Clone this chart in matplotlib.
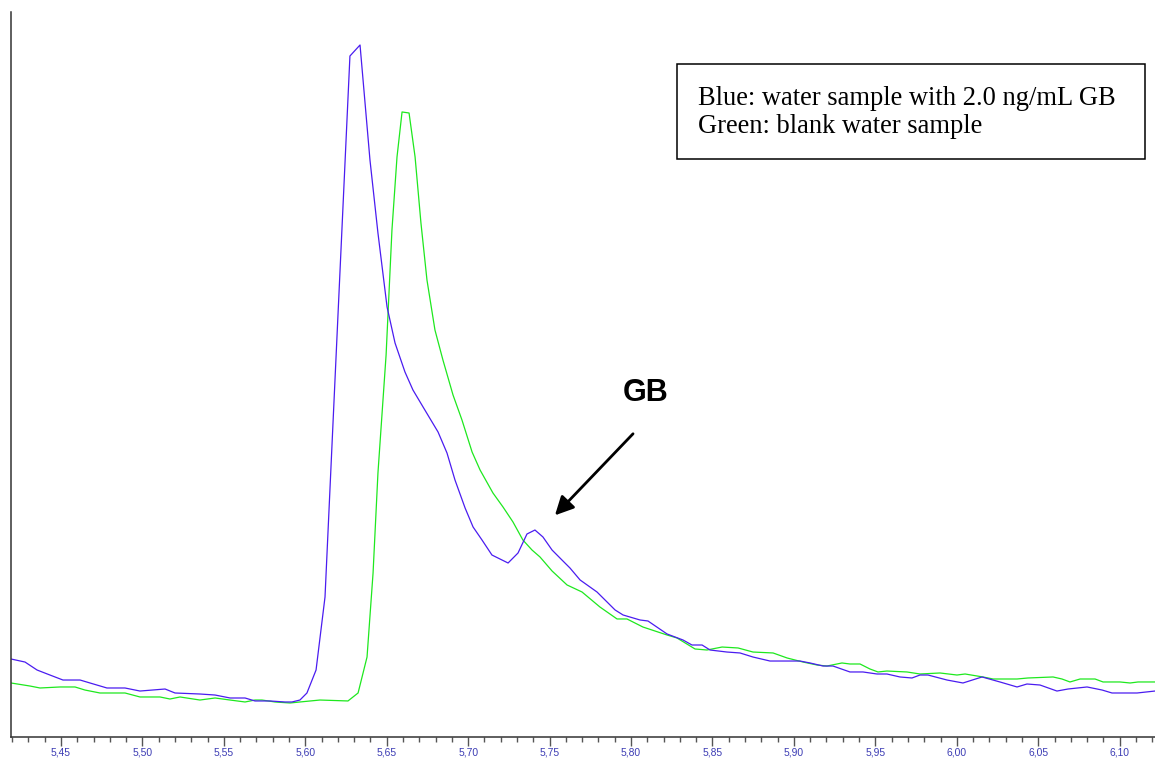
import matplotlib
matplotlib.use("Agg")
import matplotlib.pyplot as plt
from matplotlib.ticker import MultipleLocator, FuncFormatter
from matplotlib.patches import Rectangle

# retention time (min) and relative intensity (%)
blue_time = [5.4193, 5.4279, 5.4353, 5.4432, 5.4512, 5.4617, 5.4678, 5.4782, 5.4893, 5.4985,
             5.5139, 5.5200, 5.5353, 5.5446, 5.5538, 5.5630, 5.5691, 5.5783, 5.5875, 5.5918,
             5.5967, 5.6010, 5.6066, 5.6121, 5.6176, 5.6225, 5.6274, 5.6336, 5.6397, 5.6446,
             5.6502, 5.6551, 5.6612, 5.6661, 5.6723, 5.6815, 5.6870, 5.6919, 5.6981, 5.7030,
             5.7085, 5.7146, 5.7245, 5.7306, 5.7361, 5.7410, 5.7459, 5.7515, 5.7576, 5.7625,
             5.7687, 5.7791, 5.7902, 5.7951, 5.8055, 5.8104, 5.8221, 5.8319, 5.8374, 5.8436,
             5.8485, 5.8589, 5.8669, 5.8749, 5.8853, 5.8958, 5.9037, 5.9099, 5.9179, 5.9240,
             5.9344, 5.9424, 5.9510, 5.9571, 5.9651, 5.9725, 5.9774, 5.9823, 5.9940, 6.0038,
             6.0155, 6.0265, 6.0370, 6.0431, 6.0511, 6.0615, 6.0683, 6.0800, 6.0892, 6.0953,
             6.1107, 6.1217]
blue_int = [10.76, 10.34, 9.24, 8.55, 7.86, 7.86, 7.45, 6.76, 6.76, 6.34,
            6.62, 6.07, 5.93, 5.79, 5.38, 5.38, 4.97, 4.97, 4.83, 4.83,
            5.10, 6.07, 9.24, 19.31, 46.21, 70.07, 93.93, 95.45, 79.59, 69.52,
            59.31, 54.34, 50.34, 47.86, 45.52, 42.07, 39.17, 35.45, 31.59, 28.97,
            27.17, 25.10, 24.00, 25.38, 28.00, 28.55, 27.59, 25.79, 24.41, 23.31,
            21.66, 20.00, 17.52, 16.83, 16.14, 16.00, 14.21, 13.38, 12.69, 12.69,
            12.00, 11.72, 11.59, 11.03, 10.48, 10.48, 10.48, 10.21, 9.79, 9.79,
            8.97, 8.97, 8.69, 8.69, 8.28, 8.14, 8.55, 8.55, 7.86, 7.45,
            8.28, 7.59, 6.90, 7.31, 7.17, 6.34, 6.62, 6.90, 6.48, 6.07,
            6.07, 6.34]

green_time = [5.4193, 5.4310, 5.4371, 5.4494, 5.4586, 5.4647, 5.4739, 5.4893, 5.4985, 5.5108,
              5.5169, 5.5231, 5.5353, 5.5446, 5.5538, 5.5630, 5.5691, 5.5734, 5.5814, 5.5906,
              5.5967, 5.6090, 5.6262, 5.6324, 5.6379, 5.6416, 5.6446, 5.6496, 5.6532, 5.6563,
              5.6594, 5.6637, 5.6674, 5.6710, 5.6747, 5.6796, 5.6845, 5.6907, 5.6962, 5.7024,
              5.7073, 5.7152, 5.7214, 5.7275, 5.7336, 5.7392, 5.7441, 5.7515, 5.7607, 5.7699,
              5.7809, 5.7914, 5.7975, 5.8073, 5.8221, 5.8282, 5.8393, 5.8466, 5.8559, 5.8657,
              5.8749, 5.8872, 5.8958, 5.9056, 5.9142, 5.9203, 5.9295, 5.9344, 5.9406, 5.9467,
              5.9516, 5.9571, 5.9694, 5.9774, 5.9897, 6.0001, 6.0051, 6.0161, 6.0223, 6.0370,
              6.0437, 6.0591, 6.0646, 6.0695, 6.0757, 6.0849, 6.0898, 6.1002, 6.1064, 6.1113,
              6.1217]
green_int = [7.45, 7.03, 6.76, 6.90, 6.90, 6.48, 6.07, 6.07, 5.52, 5.52,
             5.24, 5.52, 5.10, 5.38, 5.10, 4.83, 5.10, 5.10, 4.83, 4.69,
             4.83, 5.10, 4.97, 6.07, 11.03, 22.62, 36.41, 52.69, 69.93, 80.00,
             86.21, 86.07, 80.00, 70.90, 63.03, 56.14, 52.00, 47.17, 43.72, 39.31,
             36.83, 33.66, 31.72, 29.66, 27.17, 25.79, 24.83, 22.90, 20.97, 20.00,
             17.93, 16.28, 16.28, 15.17, 14.07, 13.66, 12.14, 12.00, 12.41, 12.28,
             11.72, 11.59, 10.90, 10.34, 9.93, 9.79, 10.21, 10.07, 10.07, 9.38,
             8.97, 9.10, 8.97, 8.69, 8.83, 8.55, 8.69, 8.28, 8.00, 8.00,
             8.14, 8.28, 8.00, 7.59, 8.00, 8.00, 7.59, 7.59, 7.45, 7.59,
             7.59]

legend_lines = ["Blue: water sample with 2.0 ng/mL GB", "Green: blank water sample"]
peak_label = "GB"
arrow_tip = (5.7521, 30.3)
arrow_tail = (5.8024, 42.1)

fig = plt.figure(figsize=(11.55, 7.58), dpi=100)
ax = fig.add_axes([11 / 1155, 21 / 758, 1144 / 1155, 725 / 758])

ax.plot(green_time, green_int, color="#1ee81e", lw=0.9)
ax.plot(blue_time, blue_int, color="#4a1cf0", lw=0.9)

ax.set_xlim(5.4193, 6.1217)
ax.set_ylim(0, 100)

for side in ("top", "right"):
    ax.spines[side].set_visible(False)
for side in ("left", "bottom"):
    ax.spines[side].set_color("#333333")
    ax.spines[side].set_linewidth(1.1)

ax.set_yticks([])
ax.xaxis.set_major_locator(MultipleLocator(0.05))
ax.xaxis.set_minor_locator(MultipleLocator(0.01))
ax.xaxis.set_major_formatter(FuncFormatter(lambda v, p: f"{v:.2f}".replace(".", ",")))
ax.tick_params(axis="x", which="major", length=6.5, width=1.0, color="#555555",
               labelsize=7.4, labelcolor="#3c3cb4", pad=1.3)
ax.tick_params(axis="x", which="minor", length=3.6, width=1.0, color="#555555")
for lab in ax.get_xticklabels():
    lab.set_family("Liberation Sans")

# arrow pointing at the GB shoulder
ax.annotate("", xy=arrow_tip, xytext=arrow_tail,
            arrowprops=dict(arrowstyle="-|>", lw=2, color="black", mutation_scale=28))
ax.text(5.8092, 47.4, peak_label, fontsize=22, fontweight="bold",
        family="Liberation Sans", ha="center", va="center")

# legend box drawn as plain text in a frame
fig.patches.append(Rectangle((677 / 1155, 599 / 758), 468 / 1155, 95 / 758,
                             transform=fig.transFigure, fill=False,
                             edgecolor="black", lw=1.1))
fig.text(698 / 1155, 653 / 758, legend_lines[0], family="Liberation Serif",
         fontsize=19.1, va="baseline")
fig.text(698 / 1155, 625 / 758, legend_lines[1], family="Liberation Serif",
         fontsize=19.1, va="baseline")

fig.savefig("out.png", dpi=100)
